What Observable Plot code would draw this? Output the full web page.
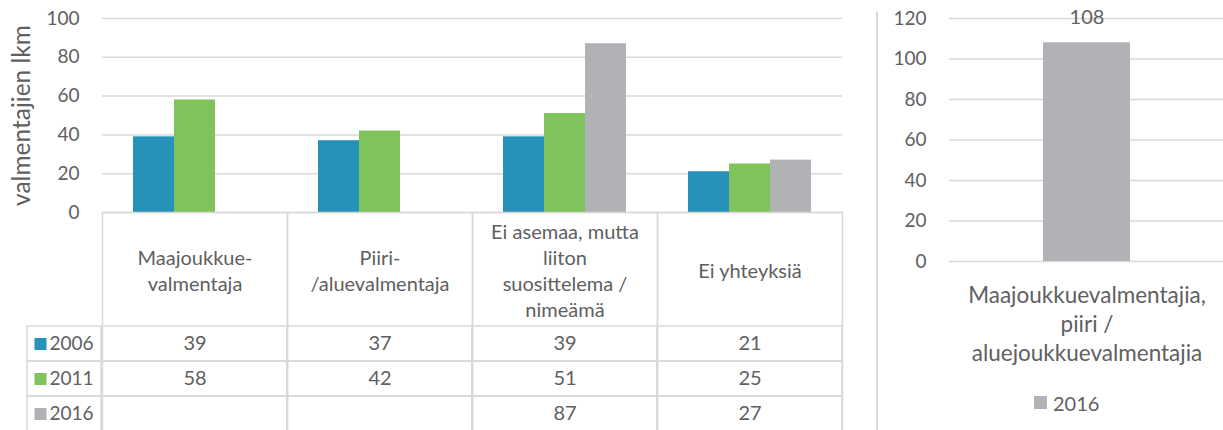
<!DOCTYPE html>
<html><head><meta charset="utf-8">
<script src="https://cdn.jsdelivr.net/npm/d3@7"></script>
<script src="https://cdn.jsdelivr.net/npm/@observablehq/plot@0.6"></script>
<style>
body{margin:0;background:#fff;}
#root{position:relative;width:1223px;height:430px;overflow:hidden;font-family:Lato, sans-serif;color:#606060;background:#fff;}
#root > *{position:absolute;}
.lg-swatches{justify-content:flex-start;}
.lg-swatch > svg{margin-right:6px !important;}
</style></head><body><div id="root"></div>
<script>
// ---- data ----
const categories = ["Maajoukkue-valmentaja", "Piiri-/aluevalmentaja", "Ei asemaa, mutta liiton suosittelema / nimeämä", "Ei yhteyksiä"];
const categoryLabels = ["Maajoukkue-\nvalmentaja", "Piiri-\n/aluevalmentaja", "Ei asemaa, mutta\nliiton\nsuosittelema /\nnimeämä", "Ei yhteyksiä"];
const years = ["2006", "2011", "2016"];
const values2006 = [39, 37, 39, 21];
const values2011 = [58, 42, 51, 25];
const values2016 = [null, null, 87, 27];
const yTicksLeft = [0, 20, 40, 60, 80, 100];
const yLabel = "valmentajien lkm";

const rightCategories = ["Maajoukkuevalmentajia,\npiiri /\naluejoukkuevalmentajia"];
const rightValues2016 = [108];
const rightSeries = ["2016"];
const yTicksRight = [0, 20, 40, 60, 80, 100, 120];

const colors = ["#2792b9", "#7fc35b", "#b1b2b5"];
const ink = "#606060", rule = "#d9d9d9";

const seriesValues = [values2006, values2011, values2016];
const tableRows = categories.flatMap((c, i) => years.map((y, j) => ({category: c, year: y, value: seriesValues[j][i]})));
const barRows = tableRows.filter(d => d.value != null);
const rightRows = rightCategories.map((c, i) => ({category: c, value: rightValues2016[i]}));

const root = document.getElementById("root");
const baseStyle = {background: "transparent", fontFamily: "Lato, sans-serif", fontSize: "19px", color: ink};

// ---- left bars ----
const plotA = Plot.plot({
  width: 860, height: 232, marginTop: 18, marginBottom: 20, marginLeft: 101, marginRight: 17,
  style: baseStyle,
  fx: {domain: categories, padding: 0, axis: null},
  x: {domain: years, paddingInner: 0, paddingOuter: 0.745, axis: null},
  y: {domain: [0, 100], axis: null},
  color: {domain: years, range: colors},
  marks: [
    Plot.gridY(yTicksLeft, {stroke: rule, strokeOpacity: 1, strokeWidth: 1.5}),
    Plot.axisY(yTicksLeft, {tickSize: 0, tickPadding: 23, label: null, fontSize: 19}),
    Plot.barY(barRows, {fx: "category", x: "year", y: "value", fill: "year"}),
    Plot.text([yLabel], {fx: () => categories[0], text: d => d, frameAnchor: "left", textAnchor: "middle", rotate: -90, dx: -80, lineAnchor: "middle", fontSize: 24.5})
  ]
});
plotA.style.left = "0px"; plotA.style.top = "0px";
root.appendChild(plotA);

// ---- data table ----
const plotB = Plot.plot({
  width: 860, height: 430, marginTop: 212, marginBottom: 0, marginLeft: 101, marginRight: 17,
  style: baseStyle,
  fx: {domain: categories, padding: 0, axis: null},
  y: {domain: years, range: [326, 431], padding: 0, axis: null},
  marks: [
    Plot.frame({anchor: "left", stroke: rule, strokeWidth: 1.5}),
    Plot.frame({anchor: "right", stroke: rule, strokeWidth: 1.5}),
    Plot.frame({anchor: "top", stroke: rule, strokeWidth: 1.5}),
    Plot.cell(tableRows, {fx: "category", y: "year", fill: "none", stroke: rule, strokeWidth: 1.5}),
    Plot.text(barRows, {fx: "category", y: "year", text: d => String(d.value), fontSize: 20}),
    Plot.text(categories, {fx: d => d, text: (d, i) => categoryLabels[i], frameAnchor: "top", dy: 57, lineAnchor: "middle", fontSize: 20, lineHeight: 1.3})
  ]
});
plotB.style.left = "0px"; plotB.style.top = "0px";
root.appendChild(plotB);

// ---- table legend column ----
const plotC = Plot.plot({
  width: 82, height: 430, marginTop: 326, marginBottom: 0, marginLeft: 7, marginRight: 1,
  style: baseStyle,
  y: {domain: years, range: [326, 431], padding: 0, axis: null},
  color: {domain: years, range: colors},
  marks: [
    Plot.cell(years, {y: d => d, fill: "none", stroke: rule, strokeWidth: 1.5}),
    Plot.dot(years, {y: d => d, fill: d => d, symbol: "square", r: 6.8, frameAnchor: "left", dx: 13}),
    Plot.text(years, {y: d => d, text: d => d, frameAnchor: "right", textAnchor: "end", dx: -8, fontSize: 19})
  ]
});
plotC.style.left = "20px"; plotC.style.top = "0px";
root.appendChild(plotC);

// ---- separator (chart border) ----
const sep = document.createElement("div");
sep.style.cssText = "left:876px;top:12px;width:0;height:418px;border-left:2px solid #d9d9d9;";
root.appendChild(sep);

// ---- right chart ----
const plotD = Plot.plot({
  width: 363, height: 430, marginTop: 18, marginBottom: 169, marginLeft: 89, marginRight: 0,
  style: baseStyle,
  x: {domain: rightCategories, paddingInner: 0.5, paddingOuter: 0.537},
  y: {domain: [0, 120], axis: null},
  color: {domain: rightSeries, range: [colors[2]]},
  marks: [
    Plot.gridY(yTicksRight, {stroke: rule, strokeOpacity: 1, strokeWidth: 1.5}),
    Plot.axisY(yTicksRight, {tickSize: 0, tickPadding: 23, label: null, fontSize: 19}),
    Plot.barY(rightRows, {x: "category", y: "value", fill: () => rightSeries[0]}),
    Plot.text(rightRows, {x: "category", y: "value", text: d => String(d.value), dy: -25, lineAnchor: "middle", fontSize: 20}),
    Plot.axisX({tickSize: 0, tickPadding: 61, lineAnchor: "middle", fontSize: 22.5, lineHeight: 1.3, label: null})
  ]
});
plotD.style.left = "860px"; plotD.style.top = "0px";
root.appendChild(plotD);

// ---- right legend ----
const leg = Plot.legend({
  color: {domain: rightSeries, range: [colors[2]]},
  swatchSize: 13, className: "lg",
  style: {fontFamily: "Lato, sans-serif", fontSize: "20px", color: ink, background: "transparent"}
});
const legWrap = document.createElement("div");
legWrap.style.cssText = "left:1034px;top:386px;";
legWrap.appendChild(leg);
root.appendChild(legWrap);
</script></body></html>
